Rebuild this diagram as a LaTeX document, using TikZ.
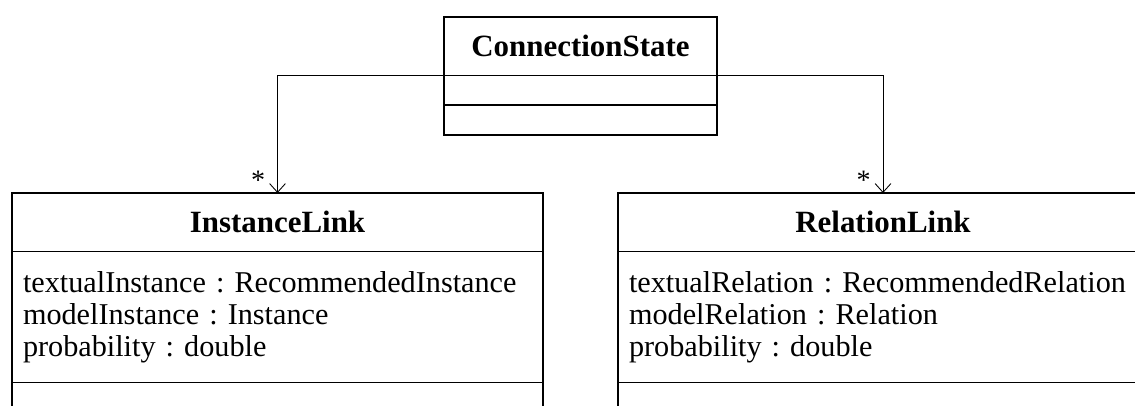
\documentclass[tikz,border=0pt]{standalone}
\usepackage{fontspec}
\setmainfont{Liberation Serif}
\frenchspacing
\usetikzlibrary{arrows.meta,positioning}

\begin{document}
\begin{tikzpicture}[>={Straight Barb[length=5pt,width=9pt]}]
			\tikzstyle{every node} = [rectangle,draw=black,line width=0.6pt,inner sep=0pt,outer sep=0pt,font=\fontsize{17.2}{18.2}\selectfont];
			\tikzstyle{classname} = [font=\fontsize{17.6}{18.2}\selectfont\bfseries];
			\tikzstyle{attrs} = [align=left,inner xsep=0.22cm,execute at begin node={\hyphenpenalty=10000}];
			\tikzstyle{mult} = [draw=none,font=\fontsize{16}{16}\selectfont];
			\clip (0,0) rectangle (22.7,8.1);
			\node[classname,minimum width=5.46cm,minimum height=1.17cm] (cs) at (11.61, 7.175) {ConnectionState};
			\node[minimum width=5.46cm,minimum height=0.59cm] (csattr) at (11.61, 6.295) {};
			\node[minimum width=5.46cm,minimum height=0.6cm] (csops) at (11.61, 5.7) {};
			\node[classname,minimum width=10.62cm,minimum height=1.17cm] (il) at (5.55, 3.655) {InstanceLink};
			\node[attrs,text width=10.18cm,minimum height=2.62cm] (ilattr) at (5.55, 1.76) {textualInstance : RecommendedInstance\\modelInstance : Instance\\probability : double};
			\node[minimum width=10.62cm,minimum height=0.6cm] (ilops) at (5.55, 0.15) {};
			\node[classname,minimum width=10.6cm,minimum height=1.17cm] (rl) at (17.66, 3.655) {RelationLink};
			\node[attrs,text width=10.16cm,minimum height=2.62cm] (rlattr) at (17.66, 1.76) {textualRelation : RecommendedRelation\\modelRelation : Relation\\probability : double};
			\node[minimum width=10.6cm,minimum height=0.6cm] (rlops) at (17.66, 0.15) {};
			\draw[->,line width=0.5pt] (cs.south west) -| node[mult,at end,above left=2pt and 7pt] {*} (il.north);
			\draw[->,line width=0.5pt] (cs.south east) -| node[mult,at end,above left=2pt and 7pt] {*} (rl.north);
		\end{tikzpicture}
\end{document}
